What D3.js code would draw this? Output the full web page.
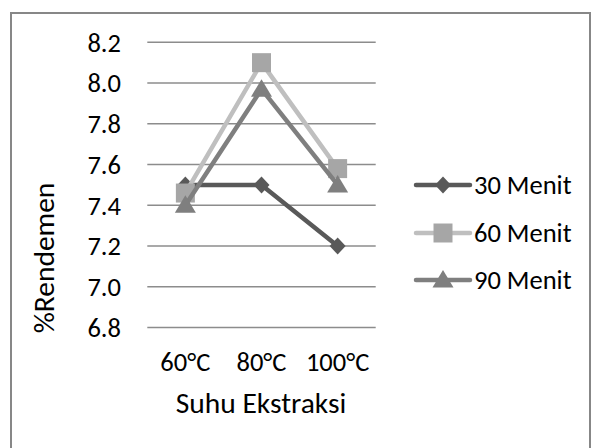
<!DOCTYPE html>
<html>
<head>
<meta charset="utf-8">
<script src="https://cdn.jsdelivr.net/npm/d3@7"></script>
<style>
  body { margin: 0; background: #fff; }
  text { font-family: Carlito, Calibri, Lato, sans-serif; fill: #000; }
</style>
</head>
<body>
<div id="chart"></div>
<script>
// data
const categories = ["60°C", "80°C", "100°C"];
const seriesNames = ["30 Menit", "60 Menit", "90 Menit"];
const menit30 = [7.5, 7.5, 7.2];
const menit60 = [7.46, 8.1, 7.58];
const menit90 = [7.4, 7.97, 7.5];
const yTicks = [6.8, 7.0, 7.2, 7.4, 7.6, 7.8, 8.0, 8.2];

const width = 595, height = 448;
const fontSize = 26.5;
const titleSize = 29.5;

const series = [
  { name: seriesNames[0], values: menit30, line: "#595959", mark: "#595959", shape: "diamond" },
  { name: seriesNames[1], values: menit60, line: "#bfbfbf", mark: "#a6a6a6", shape: "square" },
  { name: seriesNames[2], values: menit90, line: "#7f7f7f", mark: "#7f7f7f", shape: "triangle" }
];

const svg = d3.select("#chart").append("svg")
  .attr("width", width)
  .attr("height", height);

// outer frame
svg.append("rect")
  .attr("x", 11).attr("y", 13)
  .attr("width", 579).attr("height", 450)
  .attr("fill", "none")
  .attr("stroke", "#878787")
  .attr("stroke-width", 2);

const x = d3.scaleBand()
  .domain(categories)
  .range([147.3, 375.7]);

const y = d3.scaleLinear()
  .domain([6.8, 8.2])
  .range([327.5, 42.3]);

// gridlines
svg.append("g")
  .selectAll("line")
  .data(yTicks)
  .join("line")
    .attr("x1", x.range()[0])
    .attr("x2", x.range()[1])
    .attr("y1", d => y(d))
    .attr("y2", d => y(d))
    .attr("stroke", "#8c8c8c")
    .attr("stroke-width", 1.6);

// y tick labels
svg.append("g")
  .selectAll("text")
  .data(yTicks)
  .join("text")
    .attr("x", 121)
    .attr("y", d => y(d))
    .attr("dy", "0.35em")
    .attr("text-anchor", "end")
    .style("font-size", fontSize + "px")
    .text(d => d3.format(".1f")(d));

// x tick labels
svg.append("g")
  .selectAll("text")
  .data(categories)
  .join("text")
    .attr("x", d => x(d) + x.bandwidth() / 2)
    .attr("y", 362)
    .attr("dy", "0.35em")
    .attr("text-anchor", "middle")
    .style("font-size", fontSize + "px")
    .text(d => d);

// axis titles
svg.append("text")
  .attr("x", 261).attr("y", 403)
  .attr("dy", "0.35em")
  .attr("text-anchor", "middle")
  .style("font-size", titleSize + "px")
  .text("Suhu Ekstraksi");

svg.append("text")
  .attr("transform", "translate(44,258) rotate(-90)")
  .attr("dy", "0.35em")
  .attr("text-anchor", "middle")
  .style("font-size", titleSize + "px")
  .text("%Rendemen");

// marker shapes
function markerPath(shape) {
  if (shape === "diamond") return "M0,-8.5L8,0L0,8.5L-8,0Z";
  if (shape === "square") return "M-9.5,-9.5H9.5V9.5H-9.5Z";
  return "M0,-10L10.5,7.5H-10.5Z";
}

const line = d3.line()
  .x((d, i) => x(categories[i]) + x.bandwidth() / 2)
  .y(d => y(d));

series.forEach(s => {
  const g = svg.append("g");
  g.append("path")
    .attr("d", line(s.values))
    .attr("fill", "none")
    .attr("stroke", s.line)
    .attr("stroke-width", 4.5)
    .attr("stroke-linejoin", "round")
    .attr("stroke-linecap", "round");
  g.selectAll("path.mark")
    .data(s.values)
    .join("path")
      .attr("class", "mark")
      .attr("transform", (d, i) => `translate(${x(categories[i]) + x.bandwidth() / 2},${y(d)})`)
      .attr("d", markerPath(s.shape))
      .attr("fill", s.mark);
});

// legend
const legendY = [185, 233, 280];
const legend = svg.append("g")
  .selectAll("g")
  .data(series)
  .join("g")
    .attr("transform", (d, i) => `translate(0,${legendY[i]})`);

legend.append("line")
  .attr("x1", 416).attr("x2", 470)
  .attr("stroke", d => d.line)
  .attr("stroke-width", 4.5)
  .attr("stroke-linecap", "round");

legend.append("path")
  .attr("transform", "translate(443,0)")
  .attr("d", d => markerPath(d.shape))
  .attr("fill", d => d.mark);

legend.append("text")
  .attr("x", 474)
  .attr("dy", "0.35em")
  .style("font-size", fontSize + "px")
  .text(d => d.name);
</script>
</body>
</html>
